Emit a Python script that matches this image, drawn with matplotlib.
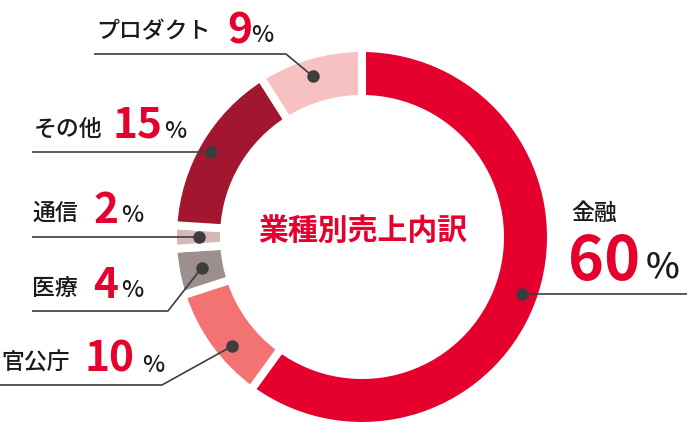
import numpy as np
import matplotlib
matplotlib.use("Agg")
import matplotlib.pyplot as plt

plt.rcParams['font.family'] = ['Noto Sans CJK JP', 'DejaVu Sans']

# ---- data ----
categories = ['金融', '官公庁', '医療', '通信', 'その他', 'プロダクト']
values = [60, 10, 4, 2, 15, 9]
value_labels = ['60', '10', '4', '2', '15', '9']
title = '業種別売上内訳'

# ---- style / layout ----
colors = ['#e5002d', '#f27372', '#9d8f8f', '#d6b8b8', '#a3162f', '#f8c1c1']
RED = '#e5002d'
INK = '#1a1a1a'
LINE = '#3d3d3d'

W, H = 687, 426
cx, cy_pix = 362, 237
R_out, R_in = 185, 142
gap_px = 8

fig = plt.figure(figsize=(W / 100, H / 100), dpi=100)
ax = fig.add_axes([0, 0, 1, 1])

def Y(yp):
    return H - yp

lw_pt = gap_px * 72 / 100
ax.pie(values, colors=colors, startangle=90, counterclock=False,
       radius=R_out + gap_px / 2, center=(cx, Y(cy_pix)),
       wedgeprops=dict(width=(R_out - R_in) + gap_px, edgecolor='white',
                       linewidth=lw_pt, joinstyle='miter'))

ax.set_xlim(0, W)
ax.set_ylim(0, H)
ax.set_aspect('equal')
ax.axis('off')

# mid angles from data
cum = np.cumsum([0] + values[:-1])
mids = 90 - 360 * (cum + np.array(values) / 2) / sum(values)

# dot placement tweaks (angle offset, radius)
dot_tweak = [(-1.6, 170), (4.0, 170), (0.0, 163), (0.0, 163), (1.2, 173), (0.8, 168)]
# leader routes: list of (x, y_pix) after the dot; None y means same as dot
routes = [
    [(687, None)],
    [(162, 385), (0, 385)],
    [(168, 311), (32, 311)],
    [(32, None)],
    [(32, None)],
    [(286, 54), (94, 54)],
]

for m, (da, r), route in zip(mids, dot_tweak, routes):
    a = np.deg2rad(m + da)
    dx = cx + r * np.cos(a)
    dy = cy_pix - r * np.sin(a)
    xs = [dx]
    ys = [dy]
    for (px, py) in route:
        xs.append(px)
        ys.append(dy if py is None else py)
    ax.plot(xs, [Y(v) for v in ys], color=LINE, lw=1.2, solid_capstyle='butt', zorder=3)
    ax.plot([dx], [Y(dy)], 'o', color=LINE, ms=8, zorder=4)

# label layout: (name x, name baseline, name size, num x, num baseline, num size, pct x, pct baseline, pct size)
label_layout = [
    (571, 220, 16.5, 568, 280, 44, 646, 278, 26),
    (1, 370, 16.5, 85, 372, 30.5, 142, 372, 17),
    (32, 295, 16.5, 93, 298, 30.5, 121, 297, 17),
    (32, 220, 16.5, 93, 223, 30.5, 121, 222, 17),
    (34, 136, 16.5, 113, 138, 30.5, 164, 138, 17),
    (96, 38, 16.5, 227, 43, 30.5, 251, 42, 17),
]

for cat, vl, (nx, nb, ns, vx, vb, vs, px, pb, ps) in zip(categories, value_labels, label_layout):
    ax.text(nx, Y(nb), cat, fontsize=ns, color=INK, fontweight='medium', ha='left', va='baseline')
    ax.text(vx, Y(vb), vl, fontsize=vs, color=RED, fontweight='bold', ha='left', va='baseline')
    ax.text(px, Y(pb), '%', fontsize=ps, color=INK, fontweight='medium', ha='left', va='baseline')

ax.text(363, Y(231), title, fontsize=21.5, color=RED, fontweight='bold',
        ha='center', va='center')

fig.savefig('out.png', dpi=100)
